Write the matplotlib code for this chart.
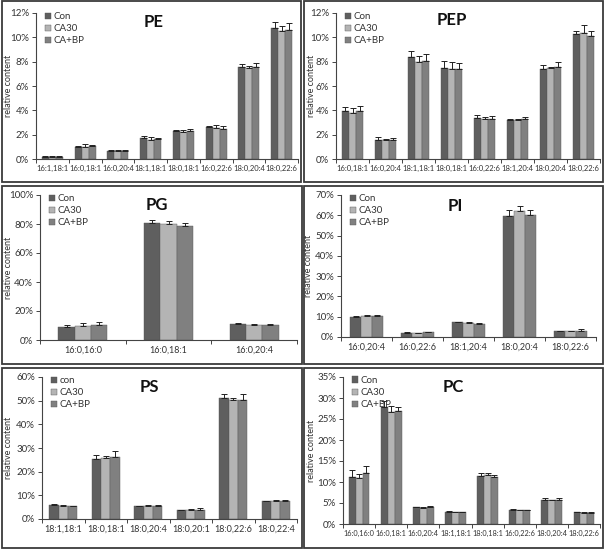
import matplotlib
matplotlib.use("Agg")
import matplotlib.pyplot as plt
import numpy as np
from matplotlib.patches import Rectangle
from matplotlib.ticker import FuncFormatter

plt.rcParams['font.family'] = ['Lato', 'DejaVu Sans']

series = ["Con", "CA30", "CA+BP"]
colors = ["#5f5f5f", "#b4b4b4", "#808080"]

# ---- data (% relative content) ----
pe_cats = ["16:1,18:1", "16:0,18:1", "16:0,20:4", "18:1,18:1", "18:0,18:1", "16:0,22:6", "18:0,20:4", "18:0,22:6"]
pe_con = [0.2, 1.0, 0.65, 1.7, 2.3, 2.6, 7.57, 10.75]
pe_ca30 = [0.2, 1.0, 0.65, 1.6, 2.2, 2.55, 7.45, 10.55]
pe_cabp = [0.2, 1.05, 0.65, 1.65, 2.3, 2.5, 7.55, 10.6]
pe_err_con = [0.02, 0.08, 0.05, 0.15, 0.1, 0.1, 0.25, 0.5]
pe_err_ca30 = [0.02, 0.2, 0.05, 0.2, 0.2, 0.25, 0.2, 0.4]
pe_err_cabp = [0.02, 0.08, 0.05, 0.05, 0.15, 0.25, 0.3, 0.6]

pep_cats = ["16:0,18:1", "16:0,20:4", "18:1,18:1", "18:0,18:1", "16:0,22:6", "18:1,20:4", "18:0,20:4", "18:0,22:6"]
pep_con = [3.95, 1.6, 8.35, 7.5, 3.35, 3.2, 7.36, 10.27]
pep_ca30 = [3.8, 1.55, 8.0, 7.4, 3.3, 3.2, 7.45, 10.33]
pep_cabp = [3.95, 1.6, 8.05, 7.4, 3.3, 3.3, 7.6, 10.14]
pep_err_con = [0.35, 0.2, 0.55, 0.55, 0.3, 0.1, 0.35, 0.25]
pep_err_ca30 = [0.4, 0.1, 0.45, 0.6, 0.15, 0.1, 0.15, 0.65]
pep_err_cabp = [0.4, 0.1, 0.6, 0.5, 0.25, 0.15, 0.35, 0.4]

pg_cats = ["16:0,16:0", "16:0,18:1", "16:0,20:4"]
pg_con = [9.2, 80.5, 10.8]
pg_ca30 = [9.9, 79.8, 10.5]
pg_cabp = [10.6, 78.9, 10.5]
pg_err_con = [0.9, 2.0, 0.7]
pg_err_ca30 = [2.1, 2.2, 0.5]
pg_err_cabp = [2.0, 1.8, 0.7]

pi_cats = ["16:0,20:4", "16:0,22:6", "18:1,20:4", "18:0,20:4", "18:0,22:6"]
pi_con = [9.9, 2.1, 7.3, 59.8, 2.8]
pi_ca30 = [10.4, 2.0, 6.8, 62.1, 2.8]
pi_cabp = [10.3, 2.4, 6.5, 60.1, 3.2]
pi_err_con = [0.6, 0.3, 0.3, 2.6, 0.3]
pi_err_ca30 = [0.5, 0.2, 0.4, 2.3, 0.2]
pi_err_cabp = [0.7, 0.3, 0.5, 2.3, 0.6]

ps_cats = ["18:1,18:1", "18:0,18:1", "18:0,20:4", "18:0,20:1", "18:0,22:6", "18:0,22:4"]
ps_con = [5.8, 25.5, 5.4, 3.8, 51.3, 7.6]
ps_ca30 = [5.6, 25.6, 5.6, 4.0, 50.4, 7.7]
ps_cabp = [5.5, 26.3, 5.5, 4.0, 50.3, 7.7]
ps_err_con = [0.4, 1.4, 0.3, 0.2, 1.7, 0.2]
ps_err_ca30 = [0.2, 1.0, 0.2, 0.2, 0.9, 0.2]
ps_err_cabp = [0.2, 2.4, 0.3, 0.5, 2.5, 0.2]

pc_cats = ["16:0,16:0", "16:0,18:1", "16:0,20:4", "18:1,18:1", "18:0,18:1", "16:0,22:6", "18:0,20:4", "18:0,22:6"]
pc_con = [11.3, 27.8, 4.0, 2.9, 11.5, 3.4, 5.8, 2.8]
pc_ca30 = [10.9, 26.6, 3.9, 2.8, 11.7, 3.3, 5.7, 2.7]
pc_cabp = [12.2, 26.8, 4.0, 2.8, 11.1, 3.3, 5.6, 2.7]
pc_err_con = [1.5, 1.4, 0.1, 0.1, 0.75, 0.1, 0.3, 0.1]
pc_err_ca30 = [0.9, 1.5, 0.1, 0.1, 0.4, 0.1, 0.1, 0.1]
pc_err_cabp = [1.6, 1.0, 0.2, 0.1, 0.6, 0.1, 0.7, 0.1]

W, H = 607, 551
fig = plt.figure(figsize=(W / 100, H / 100), dpi=100)

def fbox(x0, y0, x1, y1):
    return [x0 / W, 1 - y1 / H, (x1 - x0) / W, (y1 - y0) / H]

# panel borders
borders = [(2, 1, 301, 182), (304, 1, 603, 182), (2, 186, 302, 364),
           (304, 186, 603, 364), (2, 368, 302, 548), (304, 368, 603, 548)]
for (x0, y0, x1, y1) in borders:
    fig.patches.append(Rectangle((x0 / W, 1 - y1 / H), (x1 - x0) / W, (y1 - y0) / H,
                                 transform=fig.transFigure, fill=False,
                                 edgecolor="#3a3a3a", linewidth=1.3))

panels = [
    dict(title="PE", cats=pe_cats, vals=[pe_con, pe_ca30, pe_cabp],
         errs=[pe_err_con, pe_err_ca30, pe_err_cabp], ymax=12, step=2,
         box=(36, 13, 298, 159), tpos=(0.45, 0.94), ylx=13, names=series, bw=0.215, xfs=5.5),
    dict(title="PEP", cats=pep_cats, vals=[pep_con, pep_ca30, pep_cabp],
         errs=[pep_err_con, pep_err_ca30, pep_err_cabp], ymax=12, step=2,
         box=(336, 13, 600, 159), tpos=(0.44, 0.95), ylx=316, names=series, bw=0.215, xfs=5.5),
    dict(title="PG", cats=pg_cats, vals=[pg_con, pg_ca30, pg_cabp],
         errs=[pg_err_con, pg_err_ca30, pg_err_cabp], ymax=100, step=20,
         box=(40, 195, 297, 340), tpos=(0.455, 0.93), ylx=13, names=series, bw=0.19, xfs=6.5),
    dict(title="PI", cats=pi_cats, vals=[pi_con, pi_ca30, pi_cabp],
         errs=[pi_err_con, pi_err_ca30, pi_err_cabp], ymax=70, step=10,
         box=(341, 195, 596, 337), tpos=(0.45, 0.92), ylx=313, names=series, bw=0.215, xfs=6.5),
    dict(title="PS", cats=ps_cats, vals=[ps_con, ps_ca30, ps_cabp],
         errs=[ps_err_con, ps_err_ca30, ps_err_cabp], ymax=60, step=10,
         box=(42, 377, 297, 519), tpos=(0.42, 0.93), ylx=13, names=["con", "CA30", "CA+BP"], bw=0.22, xfs=6.5),
    dict(title="PC", cats=pc_cats, vals=[pc_con, pc_ca30, pc_cabp],
         errs=[pc_err_con, pc_err_ca30, pc_err_cabp], ymax=35, step=5,
         box=(343, 377, 600, 524), tpos=(0.43, 0.93), ylx=316, names=series, bw=0.215, xfs=5.3),
]

tcol = "#333333"
for p in panels:
    x0, y0, x1, y1 = p["box"]
    ax = fig.add_axes(fbox(x0, y0, x1, y1))
    n = len(p["cats"])
    x = np.arange(n)
    bw = p["bw"]
    for i in range(3):
        v = np.array(p["vals"][i])
        e = np.array(p["errs"][i])
        ax.bar(x + (i - 1) * bw, v, width=bw, color=colors[i], label=p["names"][i],
               edgecolor="#555555", linewidth=0.3, zorder=2)
        ax.errorbar(x + (i - 1) * bw, v, yerr=[np.zeros(n), e], fmt="none",
                    ecolor="#222222", elinewidth=0.7, capsize=2.2, capthick=0.7, zorder=3)
    ax.set_xlim(-0.5, n - 0.5)
    ax.set_ylim(0, p["ymax"])
    ax.set_yticks(np.arange(0, p["ymax"] + 0.01, p["step"]))
    ax.yaxis.set_major_formatter(FuncFormatter(lambda v, pos: f"{v:.0f}%"))
    ax.set_xticks(x)
    ax.set_xticklabels(p["cats"])
    ax.set_xticks(np.arange(-0.5, n, 1.0), minor=True)
    ax.tick_params(axis="x", which="major", length=0, labelsize=p["xfs"], colors=tcol, pad=4)
    ax.tick_params(axis="x", which="minor", length=3, width=0.7, color="#444444")
    ax.tick_params(axis="y", length=3, width=0.7, labelsize=7, colors=tcol, pad=2,
                   color="#444444")
    for s in ["top", "right"]:
        ax.spines[s].set_visible(False)
    for s in ["left", "bottom"]:
        ax.spines[s].set_color("#444444")
        ax.spines[s].set_linewidth(0.8)
    ax.set_facecolor("none")
    ax.set_ylabel("relative content", fontsize=6.5, color=tcol)
    ax.yaxis.set_label_coords((p["ylx"] - x0) / (x1 - x0), 0.5)
    ax.text(p["tpos"][0], p["tpos"][1], p["title"], transform=ax.transAxes,
            ha="center", va="center", fontsize=12, fontweight="bold", color="#111111")
    ax.legend(loc="upper left", bbox_to_anchor=(0.015, 1.04), frameon=False,
              fontsize=7, handlelength=0.6, handleheight=0.6, handletextpad=0.3,
              labelspacing=0.32, borderpad=0.0, labelcolor=tcol)

fig.savefig("out.png", dpi=100, facecolor="white")
